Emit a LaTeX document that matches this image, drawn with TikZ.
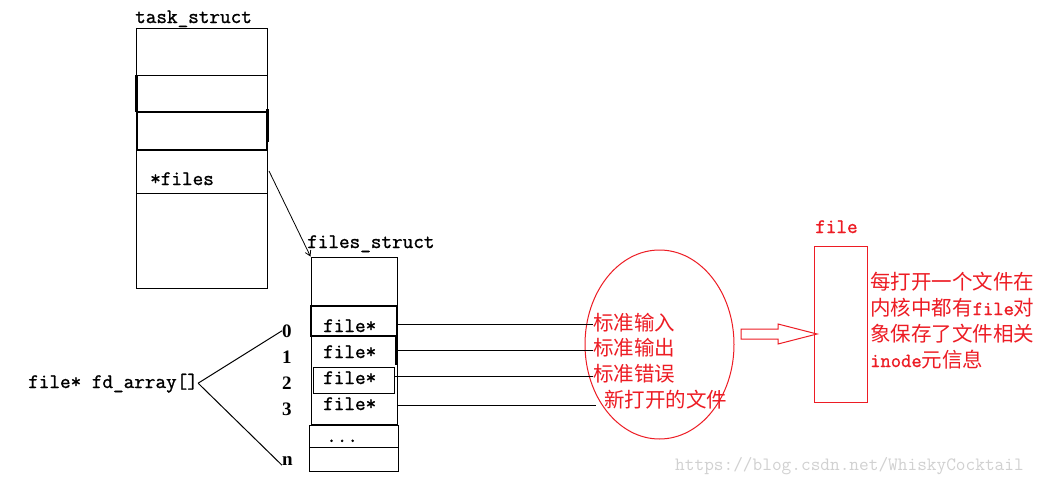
\documentclass[tikz,border=0pt]{standalone}
\usepackage{fontspec}
\newfontfamily\mfont{Latin Modern Mono}[FakeBold=1.2]
\newfontfamily\wmfont{Latin Modern Mono}
\newfontfamily\cjk{Noto Sans CJK SC}
\newfontfamily\numfont{Liberation Serif}
\usetikzlibrary{shapes.geometric,arrows.meta}
\definecolor{pred}{RGB}{237,28,36}
\begin{document}
\begin{tikzpicture}[x=1pt,y=-1pt,
  box/.style={draw,line width=1pt,inner sep=0pt},
  thickbox/.style={draw,line width=2.4pt,inner sep=0pt},
  mono/.style={font=\fontsize{20.6}{22}\mfont,inner sep=0pt,anchor=base west},
  num/.style={font=\fontsize{19}{20}\numfont\bfseries,inner sep=0pt,anchor=base west},
  zh/.style={font=\fontsize{20.5}{24}\cjk,text=pred,inner sep=0pt,anchor=base west},
  conn/.style={line width=1pt}]
\useasboundingbox (0,0) rectangle (1045,485);
\fill[white] (0,0) rectangle (1045,485);

% task_struct
\node[mono] (tlabel) at (135,23) {task\_struct};
\node[box,minimum width=131pt,minimum height=260pt] (task) at (201.5,158) {};
\draw[line width=1pt] (136,75) -- (267,75);
\draw[line width=1pt] (136,193) -- (267,193);
\draw[line width=2.4pt] (136.5,75) -- (136.5,112);
\node[thickbox,minimum width=130pt,minimum height=38pt] (slot) at (202,131) {};
\draw[line width=3pt] (267,109) -- (267,142);
\node[mono] (files) at (150,185) {*files};
\coordinate (fptr) at (269,171);

% files_struct
\node[mono] (fslabel) at (307,248) {files\_struct};
\node[box,minimum width=86pt,minimum height=167pt] (fs) at (354,340.5) {};
\node[thickbox,minimum width=86pt,minimum height=30pt] (s0) at (354,321) {};
\draw[line width=2.4pt] (396,336) -- (396,365);
\node[box,minimum width=81pt,minimum height=26pt] (s2) at (353.5,380) {};
\node[box,minimum width=89pt,minimum height=46pt] (more) at (353.5,448) {};
\draw[line width=1pt] (309,447) -- (398,447);
\node[mono] (f0) at (323,332) {file*};
\node[mono] (f1) at (323,358) {file*};
\node[mono] (f2) at (323,384) {file*};
\node[mono] (f3) at (323,410) {file*};
\node[mono] (dots) at (326,442) {...};

\draw[line width=0.8pt,-{Straight Barb[length=5pt,width=6pt]}] (fptr) -- (fs.north west);

% fd_array
\node[mono] (fd) at (28,388) {file* fd\_array[]};
\node[num] (n0) at (282,337) {0};
\node[num] (n1) at (282,363) {1};
\node[num] (n2) at (282,389) {2};
\node[num] (n3) at (282,415) {3};
\node[num] (nn) at (282,465) {n};
\draw[conn] (fd.east) -- (n0.west);
\draw[conn] (fd.east) -- (nn.south west);

% ellipse
\node[draw=pred,line width=1pt,ellipse,inner sep=0pt,minimum width=149pt,minimum height=189pt] (ell) at (659.5,344.5) {};
\node[zh] (c0) at (593,330) {标准输入};
\node[zh] (c1) at (593,355) {标准输出};
\node[zh] (c2) at (593,381) {标准错误};
\node[zh] (c3) at (604,407) {新打开的文件};
\coordinate (p0) at (398,324);
\coordinate (p1) at (397,350);
\coordinate (p2) at (395,376);
\coordinate (p3) at (397,405);
\coordinate (q3) at (596,405);
\draw[conn] (p0) -- (p0 -| c0.west);
\draw[conn] (p1) -- (p1 -| c1.west);
\draw[conn] (p2) -- (p2 -| c2.west);
\draw[conn] (p3) -- (q3);

% block arrow
\draw[pred,line width=1pt] (741,329) -- (778,329) -- (778,324) -- (817,334) -- (778,344) -- (778,339) -- (741,339) -- cycle;

% file box
\node[mono,text=pred] (flabel) at (815,233) {file};
\node[draw=pred,line width=1pt,inner sep=0pt,minimum width=53pt,minimum height=156pt] (fbox) at (840.5,324) {};
\node[zh] (d0) at (870,289) {每打开一个文件在};
\node[zh] (d1) at (870,315) {内核中都有{\fontsize{20}{22}\mfont file}对};
\node[zh] (d2) at (870,341) {象保存了文件相关};
\node[zh] (d3) at (870,367) {{\fontsize{20}{22}\mfont inode}元信息};

% watermark
\node[font=\fontsize{18.8}{20}\wmfont,text=black!18,inner sep=0pt,anchor=base west] (wm) at (675,470) {https://blog.csdn.net/WhiskyCocktail};
\end{tikzpicture}
\end{document}
